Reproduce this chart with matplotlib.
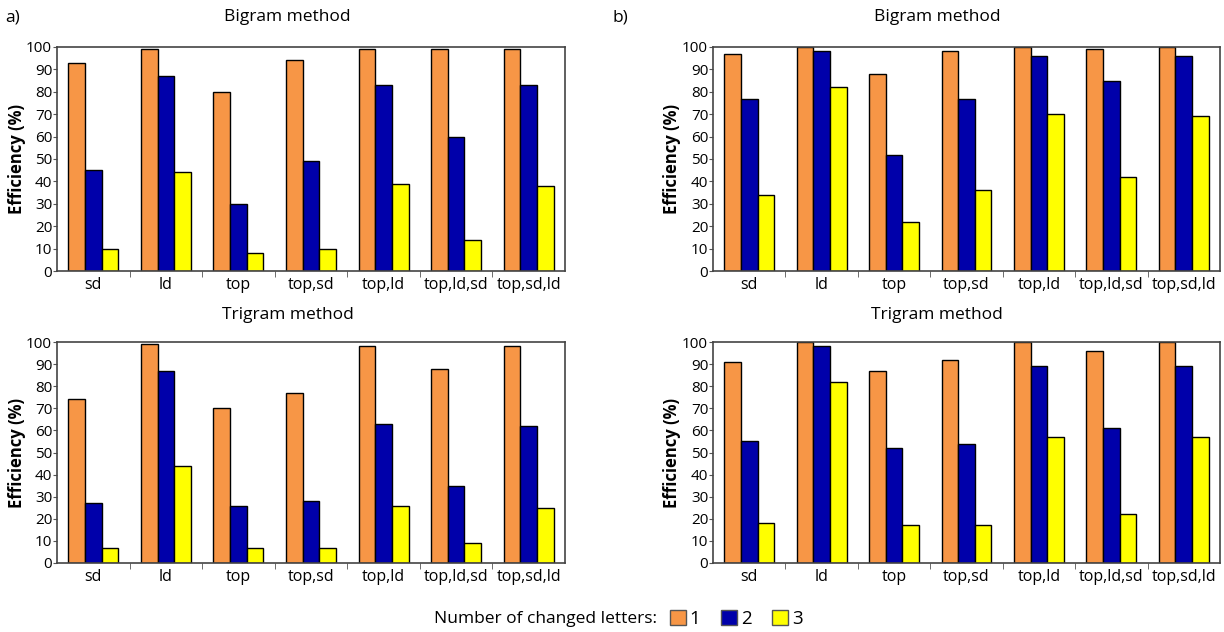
import matplotlib
matplotlib.use("Agg")
import matplotlib.pyplot as plt
import numpy as np
from matplotlib.patches import Patch

plt.rcParams['font.family'] = ['Open Sans', 'DejaVu Sans']

categories = ["sd", "ld", "top", "top,sd", "top,ld", "top,ld,sd", "top,sd,ld"]
series_names = ["1", "2", "3"]
colors = ["#F79646", "#0000AA", "#FFFF00"]

a_bigram = [
    [93, 99, 80, 94, 99, 99, 99],
    [45, 87, 30, 49, 83, 60, 83],
    [10, 44, 8, 10, 39, 14, 38],
]
a_trigram = [
    [74, 99, 70, 77, 98, 88, 98],
    [27, 87, 26, 28, 63, 35, 62],
    [7, 44, 7, 7, 26, 9, 25],
]
b_bigram = [
    [97, 100, 88, 98, 100, 99, 100],
    [77, 98, 52, 77, 96, 85, 96],
    [34, 82, 22, 36, 70, 42, 69],
]
b_trigram = [
    [91, 100, 87, 92, 100, 96, 100],
    [55, 98, 52, 54, 89, 61, 89],
    [18, 82, 17, 17, 57, 22, 57],
]

fig = plt.figure(figsize=(12.24, 6.32), dpi=100)
W, H = 1224, 632


def draw(ax, data, label_x):
    x = np.arange(len(categories))
    w = 0.23
    for i, vals in enumerate(data):
        ax.bar(x + (i - 1) * w, vals, width=w, color=colors[i],
               edgecolor="black", linewidth=1.0, zorder=2)
    ax.set_xlim(-0.5, len(categories) - 0.5)
    ax.set_ylim(0, 100)
    ax.set_yticks(np.arange(0, 101, 10))
    ax.set_xticks(x)
    ax.set_xticklabels(categories, fontsize=11.5)
    ax.tick_params(axis='x', which='major', length=0, pad=4)
    ax.set_xticks(np.arange(0.5, len(categories) - 0.5, 1), minor=True)
    ax.tick_params(axis='x', which='minor', length=4, color='#555555', direction='out')
    ax.tick_params(axis='y', labelsize=11, length=3, pad=0.5, color='#555555')
    ax.set_ylabel("Efficiency (%)", fontsize=12, fontweight='bold')
    ax.yaxis.set_label_coords(label_x, 0.5)
    for s in ax.spines.values():
        s.set_color('#444444')
        s.set_linewidth(1.2)


def rect(l, r, t, b):
    return [l / W, 1 - b / H, (r - l) / W, (b - t) / H]


ax1 = fig.add_axes(rect(57, 565, 47, 271))
ax2 = fig.add_axes(rect(713, 1220, 47, 271))
ax3 = fig.add_axes(rect(57, 565, 342, 563))
ax4 = fig.add_axes(rect(713, 1220, 342, 563))

draw(ax1, a_bigram, (26 - 57) / 508)
draw(ax2, b_bigram, (681 - 713) / 507)
draw(ax3, a_trigram, (26 - 57) / 508)
draw(ax4, b_trigram, (681 - 713) / 507)

fig.text(287 / W, 1 - 17 / H, "Bigram method", fontsize=12.5, ha='center', va='center')
fig.text(937 / W, 1 - 17 / H, "Bigram method", fontsize=12.5, ha='center', va='center')
fig.text(288 / W, 1 - 315 / H, "Trigram method", fontsize=12.5, ha='center', va='center')
fig.text(937 / W, 1 - 315 / H, "Trigram method", fontsize=12.5, ha='center', va='center')

fig.text(5 / W, 1 - 17 / H, "a)", fontsize=12.5, va='center', ha='left')
fig.text(613 / W, 1 - 17 / H, "b)", fontsize=12.5, va='center', ha='left')

fig.text(657 / W, 1 - 619 / H, "Number of changed letters:", fontsize=12.5,
         ha='right', va='center')
handles = [Patch(facecolor=c, edgecolor='#555555', linewidth=1.0) for c in colors]
fig.legend(handles, series_names, loc='center left', bbox_to_anchor=(670 / W, 1 - 619 / H),
           ncol=3, frameon=False, fontsize=13.5, handlelength=0.85, handleheight=0.85,
           handletextpad=0.2, columnspacing=1.1, borderaxespad=0, borderpad=0)

fig.savefig("out.png", dpi=100)
